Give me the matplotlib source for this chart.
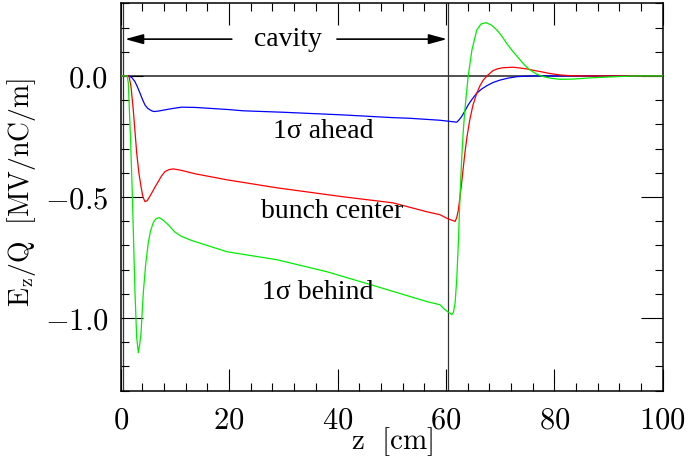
import matplotlib
matplotlib.use("Agg")
import matplotlib.pyplot as plt
from matplotlib.ticker import MultipleLocator, FuncFormatter

plt.rcParams['mathtext.fontset'] = 'cm'
plt.rcParams['axes.unicode_minus'] = True

# ---- data ----
z_ahead = [0, 1.6, 2.1, 2.64, 3.1, 3.56, 4.0, 4.48, 4.95, 5.41, 5.8, 6.2, 7.0, 8.17, 9.7, 11.25,
           13.7, 20, 22.6, 30, 41, 50, 53.4, 58.9, 62.0, 62.4, 62.9, 63.5, 64.1, 64.9, 65.7,
           66.6, 67.5, 68.7, 70.0, 71.5, 73.1, 76, 100]
e_ahead = [0, 0, -0.008, -0.024, -0.046, -0.071, -0.096, -0.120, -0.133, -0.140, -0.145, -0.147,
           -0.145, -0.140, -0.134, -0.129, -0.130, -0.139, -0.144, -0.150, -0.161, -0.172,
           -0.175, -0.183, -0.191, -0.182, -0.168, -0.145, -0.120, -0.094, -0.071, -0.054,
           -0.041, -0.027, -0.017, -0.009, -0.003, 0, 0]

z_center = [0, 1.53, 1.9, 2.32, 2.95, 3.35, 3.75, 4.1, 4.48, 4.9, 5.3, 5.72, 6.3, 6.94, 7.5, 8.17,
            8.9, 9.7, 11.0, 12.3, 13.7, 19.6, 28.8, 41.0, 50.2, 56.5, 58.9, 60.1, 61.7, 62.0,
            62.3, 62.6, 62.9, 63.2, 63.5, 63.9, 64.4, 65.0, 65.7, 66.3, 66.9, 67.8, 68.7, 69.6,
            70.6, 72.4, 73.6, 74.9, 76.2, 77.4, 79.2, 81.1, 83, 85, 100]
e_center = [0, 0, -0.044, -0.140, -0.318, -0.400, -0.457, -0.500, -0.519, -0.515, -0.500,
            -0.484, -0.460, -0.436, -0.414, -0.395, -0.387, -0.384, -0.389, -0.396, -0.404,
            -0.429, -0.462, -0.499, -0.524, -0.561, -0.573, -0.587, -0.601, -0.585, -0.553,
            -0.500, -0.443, -0.380, -0.319, -0.250, -0.182, -0.120, -0.071, -0.040, -0.017,
            0.005, 0.022, 0.030, 0.034, 0.036, 0.033, 0.029, 0.023, 0.018, 0.010, 0.004,
            0.001, 0, 0]

z_behind = [0, 1.2, 1.4, 1.8, 2.14, 2.64, 2.95, 3.25, 3.5, 3.75, 4.17, 4.6, 5.09, 5.5, 6.01,
            6.5, 7.07, 7.8, 8.78, 10.0, 11.25, 12.8, 13.7, 19.6, 28.8, 38.1, 47.3, 56.5, 58.9,
            59.8, 61.1, 61.4, 61.7, 62.0, 62.3, 62.6, 62.9, 63.2, 63.5, 64.1, 64.8, 65.7, 66.5,
            67.4, 68.4, 69.4, 70.3, 71.2, 72.4, 73.7, 74.6, 75.5, 76.7, 78.0, 79.5, 81.1, 83.5,
            86.6, 90.3, 95, 100]
e_behind = [0, 0, -0.029, -0.250, -0.484, -0.897, -1.080, -1.143, -1.110, -1.062, -0.895,
            -0.780, -0.689, -0.640, -0.606, -0.590, -0.585, -0.595, -0.615, -0.645, -0.663,
            -0.677, -0.684, -0.726, -0.759, -0.809, -0.870, -0.932, -0.945, -0.965, -0.986,
            -0.975, -0.937, -0.840, -0.689, -0.500, -0.347, -0.230, -0.140, -0.003, 0.107,
            0.190, 0.215, 0.220, 0.210, 0.190, 0.165, 0.135, 0.100, 0.066, 0.043, 0.025, 0.008,
            -0.003, -0.010, -0.014, -0.013, -0.008, -0.004, 0, 0]

cavity_edges = [0.4, 60.3]
x_ticks = [0, 20, 40, 60, 80, 100]
y_ticks = [0.0, -0.5, -1.0]

fig = plt.figure(figsize=(6.9, 4.65), dpi=100)
ax = fig.add_axes([120.7 / 690, 1 - 390.7 / 465, 542 / 690, 387.4 / 465])

ax.axhline(0, color='#222222', lw=1.1, zorder=1)
for xe in cavity_edges:
    ax.axvline(xe, color='#333333', lw=0.9, zorder=1)

ax.plot(z_ahead, e_ahead, color='#0000ff', lw=0.9, zorder=3)
ax.plot(z_center, e_center, color='#ff0000', lw=0.9, zorder=3)
ax.plot(z_behind, e_behind, color='#00ee00', lw=0.9, zorder=3)

ax.set_xlim(0, 100)
ax.set_ylim(-1.3, 0.3)
ax.set_xticks(x_ticks)
ax.set_yticks(y_ticks)
ax.xaxis.set_minor_locator(MultipleLocator(4))
ax.yaxis.set_minor_locator(MultipleLocator(0.1))
ax.xaxis.set_major_formatter(FuncFormatter(lambda v, p: r'$%d$' % round(v)))
ax.yaxis.set_major_formatter(FuncFormatter(lambda v, p: r'$%.1f$' % v if abs(v) > 1e-9 else r'$0.0$'))
ax.tick_params(which='both', direction='in', top=True, right=True, width=0.8, colors='black')
ax.tick_params(which='major', length=16, labelsize=22)
ax.tick_params(axis='x', which='major', pad=11)
ax.tick_params(axis='y', which='major', pad=9)
ax.tick_params(which='minor', length=5.5)
for s in ax.spines.values():
    s.set_linewidth(1.1)

ax.set_xlabel(r'$\mathrm{z\ \ [cm]}$', fontsize=21)
ax.set_ylabel(r'$\mathrm{E_z/Q\ \ [MV/nC/m]}$', fontsize=20)
ax.xaxis.set_label_coords(0.5, -0.09)
ax.yaxis.set_label_coords(-0.153, 0.512)

serif = ['Liberation Serif', 'DejaVu Serif']
arrow_kw = dict(arrowstyle='-|>,head_length=1.1,head_width=0.3', color='black', lw=1.2,
                mutation_scale=10, shrinkA=0, shrinkB=0)
ax.annotate('', xy=(0.8, 0.152), xytext=(20.5, 0.152), arrowprops=arrow_kw)
ax.annotate('', xy=(60.2, 0.152), xytext=(39.9, 0.152), arrowprops=arrow_kw)
ax.text(30.8, 0.152, 'cavity', fontsize=20, family=serif, ha='center', va='center')
ax.text(37.4, -0.23, '1σ ahead', fontsize=20, family=serif, ha='center', va='center')
ax.text(39.0, -0.56, 'bunch center', fontsize=20, family=serif, ha='center', va='center')
ax.text(36.3, -0.895, '1σ behind', fontsize=20, family=serif, ha='center', va='center')

fig.savefig('out.png', dpi=100)
